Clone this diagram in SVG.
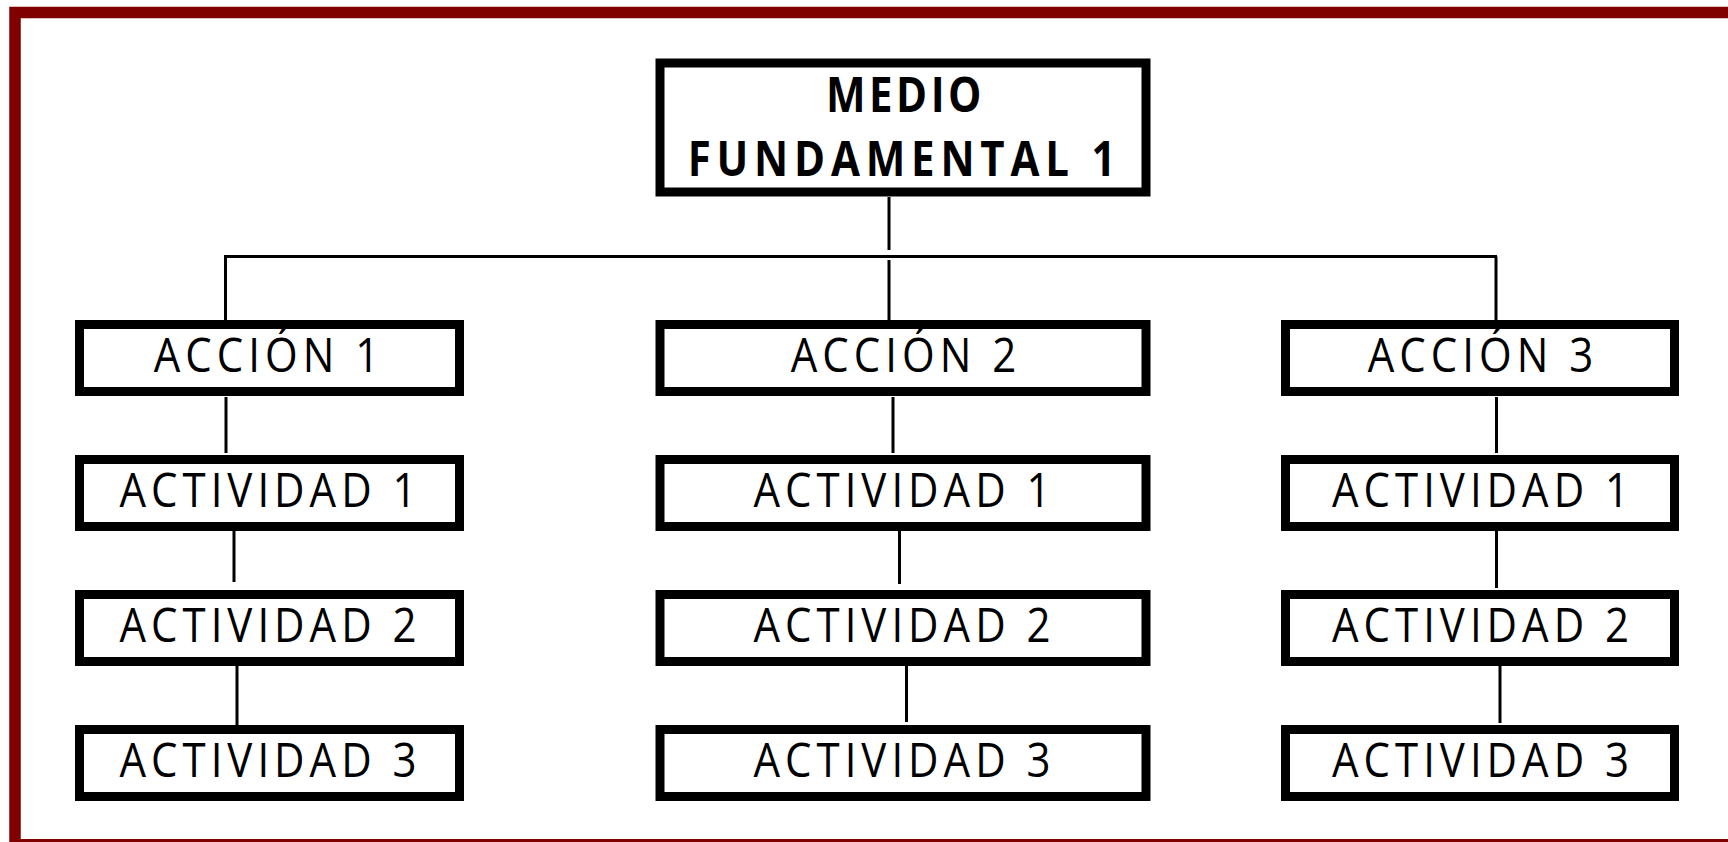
<svg xmlns="http://www.w3.org/2000/svg" width="1728" height="842" viewBox="0 0 1728 842">
<style>
.box{fill:#fff;stroke:#000;stroke-width:9}
.lbl{font-family:"Open Sans","Liberation Sans",sans-serif;font-size:42px;font-weight:500;letter-spacing:5px;fill:#000;text-anchor:middle}
.ttl{font-family:"Open Sans","Liberation Sans",sans-serif;font-size:42px;font-weight:bold;letter-spacing:5.8px;fill:#000;text-anchor:middle}
.con{stroke:#000;stroke-width:3;fill:none}
</style>
<rect x="0" y="0" width="1728" height="842" fill="#fff"/>
<rect id="frame" x="15" y="12.5" width="1800" height="832.25" fill="none" stroke="#800000" stroke-width="11.5"/>
<g id="connectors" class="con">
<line x1="889" y1="197" x2="889" y2="250"/>
<line x1="224" y1="256.5" x2="1497" y2="256.5"/>
<line x1="225.5" y1="256.5" x2="225.5" y2="320"/>
<line x1="889" y1="260" x2="889" y2="320"/>
<line x1="1496" y1="256.5" x2="1496" y2="320"/>
<line x1="226" y1="397" x2="226" y2="453"/>
<line x1="234" y1="521" x2="234" y2="582"/>
<line x1="237" y1="666" x2="237" y2="726"/>
<line x1="893" y1="397" x2="893" y2="453"/>
<line x1="899.5" y1="531" x2="899.5" y2="584"/>
<line x1="906.5" y1="666" x2="906.5" y2="722"/>
<line x1="1496.5" y1="397" x2="1496.5" y2="453"/>
<line x1="1496.5" y1="531" x2="1496.5" y2="588"/>
<line x1="1500" y1="666" x2="1500" y2="723"/>
</g>
<g id="medio">
<rect class="box" x="660" y="63" width="486" height="129"/>
<text class="ttl" style="letter-spacing:3.5px" transform="translate(905.5,112.3) scale(1,1.167)">MEDIO</text>
<text class="ttl" transform="translate(904.5,175.7) scale(1,1.167)">FUNDAMENTAL 1</text>
</g>
<g id="accion1"><rect class="box" x="79.5" y="324.5" width="380" height="67"/><text class="lbl" transform="translate(269,372.3) scale(1,1.12)">ACCIÓN 1</text></g>
<g id="accion2"><rect class="box" x="660" y="324.5" width="486" height="67"/><text class="lbl" transform="translate(906,372.3) scale(1,1.12)">ACCIÓN 2</text></g>
<g id="accion3"><rect class="box" x="1285.5" y="324.5" width="389" height="67"/><text class="lbl" transform="translate(1483,372.3) scale(1,1.12)">ACCIÓN 3</text></g>
<g id="a1act1"><rect class="box" x="79.5" y="459.5" width="380" height="67"/><text class="lbl" transform="translate(270.5,507.3) scale(1,1.12)">ACTIVIDAD 1</text></g>
<g id="a1act2"><rect class="box" x="79.5" y="594.5" width="380" height="67"/><text class="lbl" transform="translate(270.5,642.3) scale(1,1.12)">ACTIVIDAD 2</text></g>
<g id="a1act3"><rect class="box" x="79.5" y="729.5" width="380" height="67"/><text class="lbl" transform="translate(270.5,777) scale(1,1.12)">ACTIVIDAD 3</text></g>
<g id="a2act1"><rect class="box" x="660" y="459.5" width="486" height="67"/><text class="lbl" transform="translate(904.5,507.3) scale(1,1.12)">ACTIVIDAD 1</text></g>
<g id="a2act2"><rect class="box" x="660" y="594.5" width="486" height="67"/><text class="lbl" transform="translate(904.5,642.3) scale(1,1.12)">ACTIVIDAD 2</text></g>
<g id="a2act3"><rect class="box" x="660" y="729.5" width="486" height="67"/><text class="lbl" transform="translate(904.5,777) scale(1,1.12)">ACTIVIDAD 3</text></g>
<g id="a3act1"><rect class="box" x="1285.5" y="459.5" width="389" height="67"/><text class="lbl" transform="translate(1483,507.3) scale(1,1.12)">ACTIVIDAD 1</text></g>
<g id="a3act2"><rect class="box" x="1285.5" y="594.5" width="389" height="67"/><text class="lbl" transform="translate(1483,642.3) scale(1,1.12)">ACTIVIDAD 2</text></g>
<g id="a3act3"><rect class="box" x="1285.5" y="729.5" width="389" height="67"/><text class="lbl" transform="translate(1483,777) scale(1,1.12)">ACTIVIDAD 3</text></g>
</svg>
